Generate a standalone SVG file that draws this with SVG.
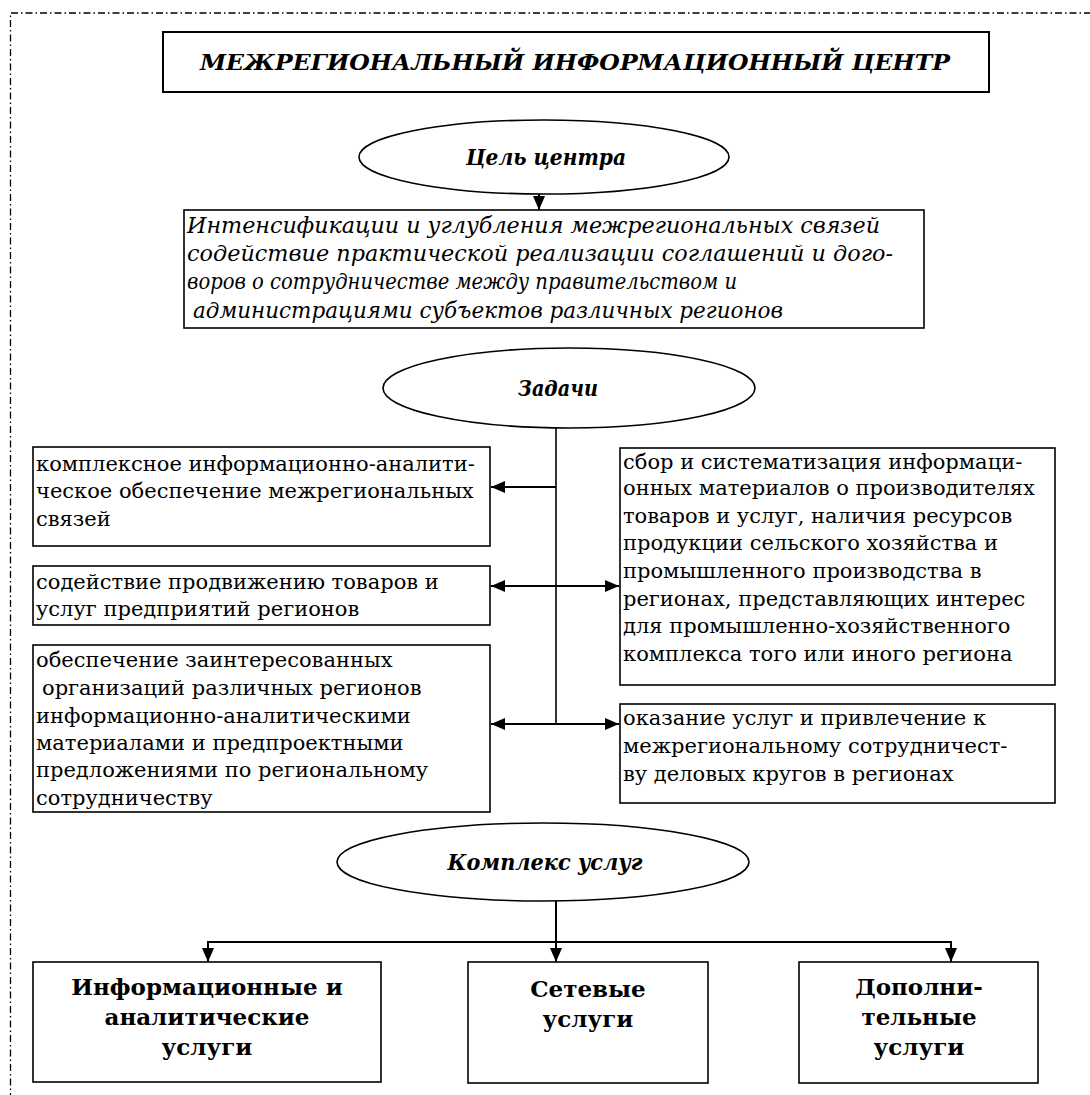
<svg xmlns="http://www.w3.org/2000/svg" width="1090" height="1095" viewBox="0 0 1090 1095">
<defs>
<style>
.box{fill:#fff;stroke:#000;stroke-width:1.6}
.ell{fill:#fff;stroke:#000;stroke-width:1.6}
.t{font-family:"DejaVu Serif","Liberation Serif",serif;font-size:21px;fill:#000}
.ti{font-family:"DejaVu Serif","Liberation Serif",serif;font-size:22px;font-style:italic;fill:#000}
.tbi{font-family:"DejaVu Serif","Liberation Serif",serif;font-size:22px;font-style:italic;font-weight:bold;fill:#000;text-anchor:middle}
.tb{font-family:"DejaVu Serif","Liberation Serif",serif;font-size:23px;font-weight:bold;fill:#000;text-anchor:middle}
.c{stroke:#000;stroke-width:2;fill:none}
</style>
<marker id="ah" viewBox="0 0 14 12" refX="14" refY="6" markerWidth="14" markerHeight="12" orient="auto-start-reverse" markerUnits="userSpaceOnUse">
<path d="M0,0 L14,6 L0,12 z" fill="#000"/>
</marker>
<clipPath id="clipGoal"><rect x="184" y="210" width="740" height="113"/></clipPath>
</defs>
<rect width="1090" height="1095" fill="#fff"/>
<path d="M10.5,1100 V13 H1100" fill="none" stroke="#000" stroke-width="1.3" stroke-dasharray="7 3 1.5 3"/>

<g id="title">
<rect class="box" x="163" y="32" width="826" height="60" style="stroke-width:2"/>
<text class="tbi" x="575" y="70" font-size="26" textLength="750" lengthAdjust="spacingAndGlyphs">МЕЖРЕГИОНАЛЬНЫЙ ИНФОРМАЦИОННЫЙ ЦЕНТР</text>
</g>

<g id="goal-ellipse">
<ellipse class="ell" cx="544" cy="157" rx="185" ry="37"/>
<text class="tbi" x="546" y="165" textLength="160" lengthAdjust="spacingAndGlyphs">Цель центра</text>
</g>

<g id="goal">
<rect class="box" x="184" y="210" width="740" height="118"/>
<g clip-path="url(#clipGoal)">
<text class="ti" x="187" y="233" textLength="693" lengthAdjust="spacingAndGlyphs">Интенсификации и углубления межрегиональных связей</text>
<text class="ti" x="187" y="261" textLength="706" lengthAdjust="spacingAndGlyphs">содействие практической реализации соглашений и дого-</text>
<text class="ti" x="187" y="289" textLength="550" lengthAdjust="spacingAndGlyphs">воров о сотрудничестве между правительством и</text>
<text class="ti" x="193" y="318" textLength="590" lengthAdjust="spacingAndGlyphs">администрациями субъектов различных регионов</text>
</g>
</g>

<g id="tasks-ellipse">
<ellipse class="ell" cx="569" cy="388" rx="186" ry="40"/>
<text class="tbi" x="558" y="396" textLength="80" lengthAdjust="spacingAndGlyphs">Задачи</text>
</g>

<g id="task1">
<rect class="box" x="33" y="447" width="457" height="99"/>
<text class="t" x="36" y="471">комплексное информационно-аналити-</text>
<text class="t" x="36" y="498">ческое обеспечение межрегиональных</text>
<text class="t" x="36" y="526">связей</text>
</g>

<g id="task2">
<rect class="box" x="33" y="566" width="457" height="59"/>
<text class="t" x="36" y="589">содействие продвижению товаров и</text>
<text class="t" x="36" y="616">услуг предприятий регионов</text>
</g>

<g id="task3">
<rect class="box" x="33" y="645" width="457" height="167"/>
<text class="t" x="36" y="667">обеспечение заинтересованных</text>
<text class="t" x="42" y="695">организаций различных регионов</text>
<text class="t" x="36" y="723">информационно-аналитическими</text>
<text class="t" x="36" y="750">материалами и предпроектными</text>
<text class="t" x="36" y="777">предложениями по региональному</text>
<text class="t" x="36" y="805">сотрудничеству</text>
</g>

<g id="task4">
<rect class="box" x="620" y="448" width="435" height="237"/>
<text class="t" x="623" y="469">сбор и систематизация информаци-</text>
<text class="t" x="623" y="495">онных материалов о производителях</text>
<text class="t" x="623" y="523">товаров и услуг, наличия ресурсов</text>
<text class="t" x="623" y="550">продукции сельского хозяйства и</text>
<text class="t" x="623" y="578">промышленного производства в</text>
<text class="t" x="623" y="606">регионах, представляющих интерес</text>
<text class="t" x="623" y="633">для промышленно-хозяйственного</text>
<text class="t" x="623" y="661">комплекса того или иного региона</text>
</g>

<g id="task5">
<rect class="box" x="620" y="704" width="435" height="99"/>
<text class="t" x="623" y="725">оказание услуг и привлечение к</text>
<text class="t" x="623" y="753">межрегиональному сотрудничест-</text>
<text class="t" x="623" y="781">ву деловых кругов в регионах</text>
</g>

<g id="services-ellipse">
<ellipse class="ell" cx="543" cy="862" rx="206" ry="39"/>
<text class="tbi" x="545" y="870" textLength="195" lengthAdjust="spacingAndGlyphs">Комплекс услуг</text>
</g>

<g id="service1">
<rect class="box" x="33" y="962" width="348" height="120"/>
<text class="tb" x="207" y="995">Информационные и</text>
<text class="tb" x="207" y="1025">аналитические</text>
<text class="tb" x="207" y="1055">услуги</text>
</g>

<g id="service2">
<rect class="box" x="468" y="962" width="240" height="121"/>
<text class="tb" x="588" y="997">Сетевые</text>
<text class="tb" x="588" y="1027">услуги</text>
</g>

<g id="service3">
<rect class="box" x="799" y="962" width="239" height="121"/>
<text class="tb" x="919" y="995">Дополни-</text>
<text class="tb" x="919" y="1025">тельные</text>
<text class="tb" x="919" y="1055">услуги</text>
</g>

<g id="connectors">
<line class="c" x1="539" y1="194" x2="539" y2="210" marker-end="url(#ah)"/>
<line class="c" x1="556" y1="428" x2="556" y2="724" style="stroke-width:1.6"/>
<line class="c" x1="556" y1="487" x2="491" y2="487" marker-end="url(#ah)"/>
<line class="c" x1="491" y1="586" x2="619" y2="586" marker-start="url(#ah)" marker-end="url(#ah)"/>
<line class="c" x1="491" y1="724" x2="619" y2="724" marker-start="url(#ah)" marker-end="url(#ah)"/>
<line class="c" x1="556" y1="901" x2="556" y2="962" marker-end="url(#ah)"/>
<polyline class="c" points="208,962 208,942 951,942 951,962"/>
<line class="c" x1="208" y1="942" x2="208" y2="962" marker-end="url(#ah)"/>
<line class="c" x1="951" y1="942" x2="951" y2="962" marker-end="url(#ah)"/>
</g>
</svg>
